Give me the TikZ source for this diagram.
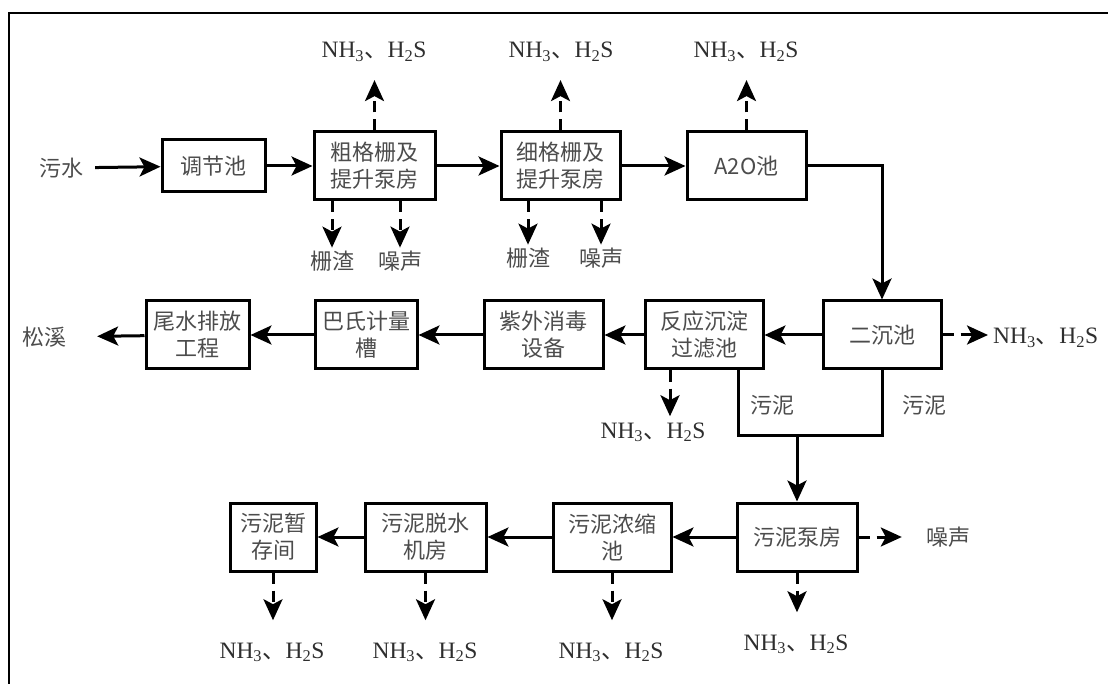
\documentclass[tikz,border=0pt]{standalone}
\usepackage{fontspec}
\setmainfont{Liberation Serif}
\newfontfamily\cjk{Noto Sans CJK SC}
\usetikzlibrary{arrows.meta}
\tikzset{
  box/.style={draw, line width=3pt, inner sep=0pt, align=center, text=black!70,
    font=\cjk\fontsize{22}{27}\selectfont},
  flow/.style={line width=3pt, -{Stealth[length=21pt,width=19pt,inset=5pt]}},
  emit/.style={flow, dash pattern=on 11pt off 7pt},
  lbl/.style={inner sep=0pt, text=black!70, font=\cjk\fontsize{22}{27}\selectfont},
  gas/.style={inner sep=0pt, anchor=base, text=black!82, font=\fontsize{23.5}{28}\selectfont},
}
\newcommand\gasNH{NH\textsubscript{3}{\cjk 、}H\textsubscript{2}S}
\begin{document}
\begin{tikzpicture}[x=1pt,y=-1pt]
\useasboundingbox (0,0) rectangle (1108,684);
\draw[line width=2.2pt, line join=miter] (9,684) -- (9,13) -- (1108,13);

% row 1
\node[lbl] (wsin) at (61,168) {污水};
\node[box, minimum width=103pt, minimum height=52pt] (tj) at (213.5,166) {调节池};
\node[box, minimum width=121pt, minimum height=68pt] (cg) at (374.5,166) {粗格栅及\\提升泵房};
\node[box, minimum width=119pt, minimum height=68pt] (xg) at (560.5,166) {细格栅及\\提升泵房};
\node[box, minimum width=119pt, minimum height=68pt] (a2o) at (746.5,166) {A2O池};

% row 2
\node[box, minimum width=118pt, minimum height=68pt] (ec) at (882,335) {二沉池};
\node[box, minimum width=118pt, minimum height=68pt] (fy) at (704,335) {反应沉淀\\过滤池};
\node[box, minimum width=119pt, minimum height=68pt] (zw) at (543.5,335) {紫外消毒\\设备};
\node[box, minimum width=102pt, minimum height=68pt] (bs) at (366,335) {巴氏计量\\槽};
\node[box, minimum width=103pt, minimum height=68pt] (ws) at (197.5,335) {尾水排放\\工程};
\node[lbl] (sx) at (45,337) {松溪};

% row 3
\node[box, minimum width=120pt, minimum height=68pt] (pf) at (797,537) {污泥泵房};
\node[box, minimum width=118pt, minimum height=68pt] (nc) at (612,537) {污泥浓缩\\池};
\node[box, minimum width=121pt, minimum height=68pt] (ts) at (425.5,537) {污泥脱水\\机房};
\node[box, minimum width=86pt, minimum height=68pt] (zc) at (273,537) {污泥暂\\存间};

% labels
\node[lbl] (l1) at (332,261) {栅渣};
\node[lbl] (l2) at (400,261) {噪声};
\node[lbl] (l3) at (528,258) {栅渣};
\node[lbl] (l4) at (601,258) {噪声};
\node[lbl] (wn1) at (772,405) {污泥};
\node[lbl] (wn2) at (924,405) {污泥};
\node[lbl] (zs) at (948,537) {噪声};

\node[gas] (g1) at (374,58) {\gasNH};
\node[gas] (g2) at (561,58) {\gasNH};
\node[gas] (g3) at (746,58) {\gasNH};
\node[gas, anchor=base west] (g4) at (993,344) {\gasNH};
\node[gas] (g5) at (653,438) {\gasNH};
\node[gas] (g6) at (272,658) {\gasNH};
\node[gas] (g7) at (425,658) {\gasNH};
\node[gas] (g8) at (611,658) {\gasNH};
\node[gas] (g9) at (796,650) {\gasNH};

% main flow
\draw[flow, shorten <=12pt] (wsin) -- (tj);
\draw[flow] (tj) -- (cg);
\draw[flow] (cg) -- (xg);
\draw[flow] (xg) -- (a2o);
\draw[flow] (a2o.east) -| (ec.north);
\draw[flow] (ec) -- (fy);
\draw[flow] (fy) -- (zw);
\draw[flow] (zw) -- (bs);
\draw[flow] (bs) -- (ws);
\draw[flow, shorten >=30pt] (ws) -- (sx);
\coordinate (jn) at (797,435);
\draw[line width=3pt] ([xshift=34pt]fy.south) |- (jn) -| (ec.south);
\draw[flow] (jn) -- (pf.north);
\draw[flow] (pf) -- (nc);
\draw[flow] (nc) -- (ts);
\draw[flow] (ts) -- (zc);

% emissions
\draw[emit, shorten >=18pt] (cg.north) -- (cg.north |- g1.south);
\draw[emit, shorten >=18pt] (xg.north) -- (xg.north |- g2.south);
\draw[emit, shorten >=18pt] (a2o.north) -- (a2o.north |- g3.south);
\draw[emit, shorten >=3pt] (cg.south -| l1) -- (l1.north);
\draw[emit, shorten >=3pt] (cg.south -| l2) -- (l2.north);
\draw[emit, shorten >=3pt] (xg.south -| l3) -- (l3.north);
\draw[emit, shorten >=3pt] (xg.south -| l4) -- (l4.north);
\draw[emit, shorten >=5pt] (ec.east) -- (ec.east -| g4.west);
\draw[emit, shorten >=6pt] ([xshift=-34pt]fy.south) -- ([xshift=-34pt]fy.south |- g5.north);
\draw[emit, shorten >=24pt] (pf.east) -- (pf.east -| zs.west);
\draw[emit, shorten >=22pt] (zc.south) -- (zc.south |- g6.north);
\draw[emit, shorten >=22pt] (ts.south) -- (ts.south |- g7.north);
\draw[emit, shorten >=22pt] (nc.south) -- (nc.south |- g8.north);
\draw[emit, shorten >=22pt] (pf.south) -- (pf.south |- g9.north);
\end{tikzpicture}
\end{document}
